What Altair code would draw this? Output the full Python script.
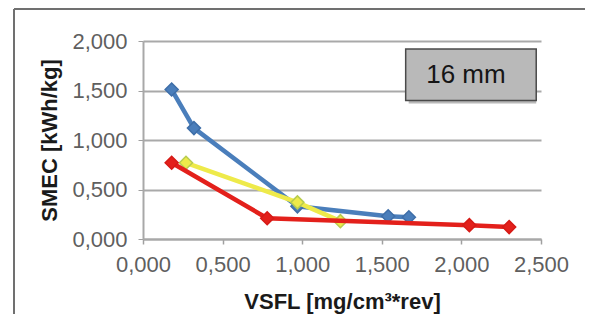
import altair as alt
import pandas as pd

# --- data ---
series_names = ["Blue", "Yellow", "Red"]
blue_x = [0.18, 0.32, 0.97, 1.54, 1.67]
blue_y = [1.51, 1.12, 0.33, 0.23, 0.22]
yellow_x = [0.27, 0.97, 1.24]
yellow_y = [0.77, 0.37, 0.18]
red_x = [0.18, 0.78, 2.05, 2.30]
red_y = [0.77, 0.21, 0.14, 0.12]
x_ticks = [0.0, 0.5, 1.0, 1.5, 2.0, 2.5]
y_ticks = [0.0, 0.5, 1.0, 1.5, 2.0]
box_label = "16 mm"
box_x = [1.65, 2.47]
box_y = [1.40, 1.92]

colors = {"Blue": "#4a7ebb", "Yellow": "#eeea4a", "Red": "#e3201b"}
strokes = {"Blue": "#3e6ea8", "Yellow": "#b8cc50", "Red": "#d61a16"}

rows = []
for name, xs, ys in [("Blue", blue_x, blue_y), ("Yellow", yellow_x, yellow_y), ("Red", red_x, red_y)]:
    for i, (a, b) in enumerate(zip(xs, ys)):
        rows.append({"series": name, "order": i, "x": a, "y": b})
df = pd.DataFrame(rows)

FONT = "Liberation Sans"
fmt = "replace(format(datum.value, '.3f'), '.', ',')"
xscale = alt.Scale(domain=[0, 2.5], nice=False)
yscale = alt.Scale(domain=[0, 2.0], nice=False)

xenc = alt.X("x:Q", scale=xscale, axis=alt.Axis(
    title="VSFL [mg/cm³*rev]", values=x_ticks, labelExpr=fmt, grid=False,
    labelOverlap=False, labelFlush=False,
    labelFontSize=22, labelColor="#5f5f5f", labelFont=FONT,
    titleFontSize=22, titleFont=FONT, titleFontWeight="bold", titleColor="#1a1a1a",
    titlePadding=16, labelPadding=10, tickSize=5, tickColor="#a0a0a0",
    domainColor="#a8a8a8", domainWidth=2, tickWidth=1.5))
yenc = alt.Y("y:Q", scale=yscale, axis=alt.Axis(
    title="SMEC [kWh/kg]", values=y_ticks, labelExpr=fmt, grid=True,
    labelOverlap=False, labelFlush=False,
    gridColor="#a9a9a9", gridWidth=2,
    labelFontSize=22, labelColor="#5f5f5f", labelFont=FONT,
    titleFontSize=22, titleFont=FONT, titleFontWeight="bold", titleColor="#1a1a1a",
    titlePadding=10, labelPadding=11, tickSize=5, tickColor="#a0a0a0",
    domainColor="#a8a8a8", domainWidth=2))

layers = []
for name in series_names:
    sub = alt.Chart(df).transform_filter(alt.datum.series == name)
    line = sub.mark_line(color=colors[name], strokeWidth=4.5, interpolate="linear").encode(
        x=xenc, y=yenc, order="order:Q")
    pts = sub.mark_point(shape="diamond", filled=True, size=170, color=colors[name],
                         stroke=strokes[name], strokeWidth=1.5, opacity=1).encode(
        x=xenc, y=yenc)
    layers += [line, pts]

box_df = pd.DataFrame({"x": [box_x[0]], "x2": [box_x[1]], "y": [box_y[0]], "y2": [box_y[1]],
                       "label": [box_label], "xc": [(box_x[0] + box_x[1]) / 2],
                       "yc": [(box_y[0] + box_y[1]) / 2]})
shadow = alt.Chart(box_df).mark_rect(fill="#8a8a8a", opacity=0.6, xOffset=3, yOffset=3).encode(
    x=alt.X("x:Q", scale=xscale), x2="x2:Q", y=alt.Y("y:Q", scale=yscale), y2="y2:Q")
box = alt.Chart(box_df).mark_rect(fill="#b9b9b9", stroke="#4a4a4a", strokeWidth=1.5).encode(
    x=alt.X("x:Q", scale=xscale), x2="x2:Q", y=alt.Y("y:Q", scale=yscale), y2="y2:Q")
box_text = alt.Chart(box_df).mark_text(fontSize=26, font=FONT, color="#151515",
                                       dx=-5).encode(
    x=alt.X("xc:Q", scale=xscale), y=alt.Y("yc:Q", scale=yscale), text="label:N")

frame_left = alt.Chart(box_df).mark_rule(color="#707070", strokeWidth=2).encode(
    x=alt.value(-129), y=alt.value(-32), y2=alt.value(275))
frame_top = alt.Chart(box_df).mark_rule(color="#707070", strokeWidth=2).encode(
    x=alt.value(-129), x2=alt.value(442), y=alt.value(-32))

chart = alt.layer(frame_left, frame_top, *layers, shadow, box, box_text).properties(
    width=398, height=198,
    autosize=alt.AutoSizeParams(type="none"),
    padding={"left": 135, "top": 33, "right": 44, "bottom": 75},
    background="white",
).configure_view(stroke=None)

chart.save("out.html", embed_options={"renderer": "svg", "actions": False})
